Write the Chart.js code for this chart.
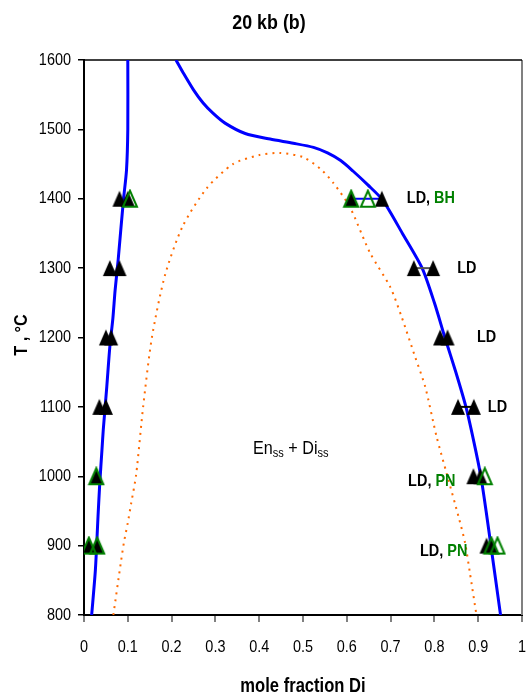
<!DOCTYPE html>
<html>
<head>
<meta charset="utf-8">
<script src="https://cdn.jsdelivr.net/npm/chart.js@4.4.1/dist/chart.umd.min.js"></script>
<style>
  html, body { margin: 0; padding: 0; background: #fff; }
  #wrap { width: 527px; height: 698px; position: relative; }
</style>
</head>
<body>
<div id="wrap"><canvas id="c" width="527" height="698"></canvas></div>
<script>
// Axis ticks
const xTicks = [0, 0.1, 0.2, 0.3, 0.4, 0.5, 0.6, 0.7, 0.8, 0.9, 1];
const yTicks = [800, 900, 1000, 1100, 1200, 1300, 1400, 1500, 1600];

// Enstatite-side solvus (blue, left)
const enSolvusX = [0.0175, 0.026, 0.032, 0.036, 0.041, 0.044, 0.052, 0.059, 0.066, 0.071, 0.078, 0.090, 0.097, 0.100, 0.100];
const enSolvusT = [800, 865, 942, 990, 1038, 1067, 1129, 1187, 1228, 1268, 1312, 1398, 1441, 1500, 1600];

// Diopside-side solvus (blue, right)
const diSolvusX = [0.210, 0.227, 0.250, 0.272, 0.295, 0.322, 0.368, 0.425, 0.478, 0.524, 0.556, 0.586, 0.614, 0.648, 0.682, 0.727, 0.772, 0.800, 0.824, 0.849, 0.872, 0.890, 0.906, 0.918, 0.929, 0.940, 0.951];
const diSolvusT = [1600, 1581, 1557, 1538, 1523, 1509, 1494, 1486, 1480, 1474, 1466, 1455, 1440, 1420, 1398, 1350, 1300, 1250, 1200, 1150, 1100, 1050, 1000, 950, 900, 850, 800];

// Model solvus (orange, dotted)
const modelX = [0.067, 0.084, 0.091, 0.100, 0.108, 0.119, 0.135, 0.155, 0.185, 0.225, 0.280, 0.340, 0.400, 0.447, 0.500, 0.540, 0.569, 0.607, 0.653, 0.699, 0.725, 0.756, 0.779, 0.805, 0.828, 0.855, 0.870, 0.881, 0.896];
const modelT = [800, 875, 904, 933, 962, 1002, 1100, 1200, 1290, 1360, 1415, 1450, 1463, 1466, 1460, 1443, 1423, 1388, 1322, 1273, 1230, 1172, 1129, 1057, 1004, 942, 904, 861, 800];

// Experimental compositions: LD (filled), BH and PN (open)
const ldX = [0.081, 0.100, 0.059, 0.081, 0.050, 0.062, 0.035, 0.050, 0.028, 0.011, 0.030,
             0.610, 0.680, 0.753, 0.797, 0.813, 0.830, 0.854, 0.890, 0.889, 0.905, 0.919, 0.930];
const ldT = [1400, 1400, 1300, 1300, 1200, 1200, 1100, 1100, 1000, 900, 900,
             1400, 1400, 1300, 1300, 1200, 1200, 1100, 1100, 1000, 1000, 900, 900];
const bhX = [0.105, 0.610, 0.648];
const bhT = [1400, 1400, 1400];
const pnX = [0.028, 0.011, 0.030, 0.915, 0.930, 0.944];
const pnT = [1000, 900, 900, 1000, 900, 900];

// Tie lines between coexisting compositions
const tieLines = [
  { x: [0.610, 0.680], T: [1400, 1400], color: '#0000ff' },
  { x: [0.753, 0.797], T: [1300, 1300], color: '#555555' },
  { x: [0.854, 0.890], T: [1100, 1100], color: '#000000' }
];

// Run labels: [x, T, black part, green part]
const runLabels = [
  [0.737, 1400, 'LD, ', 'BH'],
  [0.852, 1300, 'LD', ''],
  [0.897, 1200, 'LD', ''],
  [0.922, 1100, 'LD', ''],
  [0.740, 992, 'LD, ', 'PN'],
  [0.767, 892, 'LD, ', 'PN']
];

const toPts = (xs, ts) => xs.map((x, i) => ({ x: x, y: ts[i] }));

function triangleMarker(fill, stroke) {
  const w = 14, h = 16, pad = 2;
  const c = document.createElement('canvas');
  c.width = w + pad * 2; c.height = h + pad * 2;
  const g = c.getContext('2d');
  g.beginPath();
  g.moveTo(c.width / 2, pad);
  g.lineTo(pad + w, pad + h);
  g.lineTo(pad, pad + h);
  g.closePath();
  if (fill) { g.fillStyle = fill; g.fill(); }
  if (stroke) { g.strokeStyle = stroke; g.lineWidth = 2; g.lineJoin = 'miter'; g.stroke(); }
  return c;
}
const filledTri = triangleMarker('#000000', null);
const openTri = triangleMarker(null, '#008000');

const FONT = "'Liberation Sans', Arial, sans-serif";
const SQUEEZE = 0.85;

// Horizontally condensed text
function drawText(ctx, text, x, y, font, align, color) {
  ctx.save();
  ctx.font = font;
  ctx.fillStyle = color;
  ctx.textBaseline = 'middle';
  ctx.textAlign = 'left';
  const w = ctx.measureText(text).width * SQUEEZE;
  const x0 = align === 'center' ? x - w / 2 : align === 'right' ? x - w : x;
  ctx.translate(x0, y);
  ctx.scale(SQUEEZE, 1);
  ctx.fillText(text, 0, 0);
  ctx.restore();
  return w;
}

const datasets = [
  { label: 'En solvus', data: toPts(enSolvusX, enSolvusT), showLine: true, borderColor: '#0000ff', borderWidth: 3, pointRadius: 0, tension: 0.25, order: 5 },
  { label: 'Di solvus', data: toPts(diSolvusX, diSolvusT), showLine: true, borderColor: '#0000ff', borderWidth: 3, pointRadius: 0, tension: 0.25, order: 5 },
  { label: 'model', data: toPts(modelX, modelT), showLine: true, borderColor: '#ff6a00', borderWidth: 2, borderDash: [2, 5], pointRadius: 0, tension: 0.25, order: 6 }
];
tieLines.forEach(t => datasets.push({ label: 'tie', data: toPts(t.x, t.T), showLine: true, borderColor: t.color, borderWidth: 2, pointRadius: 0, order: 4 }));
datasets.push({ label: 'LD', data: toPts(ldX, ldT), showLine: false, pointStyle: filledTri, order: 2 });
datasets.push({ label: 'BH', data: toPts(bhX, bhT), showLine: false, pointStyle: openTri, order: 1 });
datasets.push({ label: 'PN', data: toPts(pnX, pnT), showLine: false, pointStyle: openTri, order: 1 });

const decor = {
  id: 'decor',
  beforeDatasetsDraw(chart) {
    const { ctx, chartArea: a } = chart;
    ctx.save();
    // frame: black top, grey right
    ctx.lineWidth = 2;
    ctx.strokeStyle = '#808080';
    ctx.beginPath(); ctx.moveTo(a.right, a.top); ctx.lineTo(a.right, a.bottom); ctx.stroke();
    ctx.strokeStyle = '#000';
    ctx.lineWidth = 1.5;
    ctx.beginPath(); ctx.moveTo(a.left, a.top); ctx.lineTo(a.right, a.top); ctx.stroke();
    ctx.restore();
  },
  afterDraw(chart) {
    const { ctx, scales } = chart;
    const sx = scales.x, sy = scales.y;
    // tick labels
    const tickFont = '17px ' + FONT;
    yTicks.forEach(v => drawText(ctx, String(v), 71, sy.getPixelForValue(v), tickFont, 'right', '#000'));
    xTicks.forEach(v => drawText(ctx, (v === 0 || v === 1) ? String(v) : v.toFixed(1), sx.getPixelForValue(v), 647, tickFont, 'center', '#000'));
    // title and axis titles
    drawText(ctx, '20 kb (b)', 269, 23, 'bold 21px ' + FONT, 'center', '#000');
    drawText(ctx, 'mole fraction Di', 303, 687, 'bold 19.5px ' + FONT, 'center', '#000');
    ctx.save();
    ctx.translate(22, 335);
    ctx.rotate(-Math.PI / 2);
    drawText(ctx, 'T , °C', 0, 0, 'bold 19px ' + FONT, 'center', '#000');
    ctx.restore();
    // run labels
    const lf = 'bold 17px ' + FONT;
    runLabels.forEach(([x, T, blk, grn]) => {
      const px = sx.getPixelForValue(x), py = sy.getPixelForValue(T);
      const w = drawText(ctx, blk, px, py, lf, 'left', '#000');
      if (grn) drawText(ctx, grn, px + w, py, lf, 'left', '#008000');
    });
    // field label: En_ss + Di_ss
    let px = sx.getPixelForValue(0.386);
    const py = sy.getPixelForValue(1040);
    [['En', false], ['ss', true], [' + Di', false], ['ss', true]].forEach(([t, sub]) => {
      px += drawText(ctx, t, px, py + (sub ? 5 : 0), (sub ? '13px ' : '19px ') + FONT, 'left', '#000');
    });
  }
};

new Chart(document.getElementById('c'), {
  type: 'scatter',
  data: { datasets },
  options: {
    responsive: false,
    devicePixelRatio: 1,
    animation: false,
    layout: { padding: { top: 60, right: 5, left: 0, bottom: 0 } },
    plugins: { legend: { display: false }, tooltip: { enabled: false }, title: { display: false } },
    scales: {
      x: {
        type: 'linear', min: 0, max: 1,
        afterBuildTicks: s => { s.ticks = xTicks.map(v => ({ value: v })); },
        afterFit: s => { s.height = 83; s.paddingLeft = 0; s.paddingRight = 0; },
        grid: { drawOnChartArea: false, drawTicks: true, tickLength: 7, color: '#808080', lineWidth: 2 },
        border: { display: true, color: '#000', width: 2 },
        ticks: { display: false }
      },
      y: {
        type: 'linear', min: 800, max: 1600,
        afterBuildTicks: s => { s.ticks = yTicks.map(v => ({ value: v })); },
        afterFit: s => { s.width = 84; s.paddingTop = 0; s.paddingBottom = 0; },
        grid: { drawOnChartArea: false, drawTicks: true, tickLength: 6, color: '#000', lineWidth: 1.5 },
        border: { display: true, color: '#000', width: 2 },
        ticks: { display: false }
      }
    }
  },
  plugins: [decor]
});
</script>
</body>
</html>
